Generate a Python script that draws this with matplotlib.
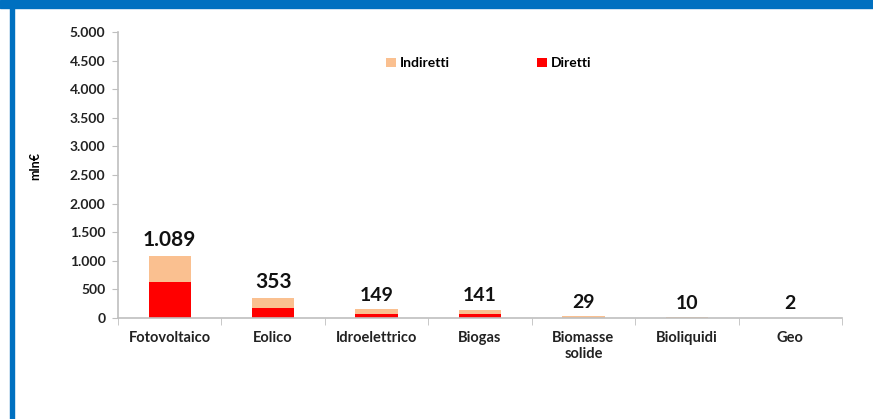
import matplotlib
matplotlib.use("Agg")
import matplotlib.pyplot as plt
import numpy as np
from matplotlib.patches import Rectangle
from matplotlib.ticker import FuncFormatter, FixedLocator

plt.rcParams['font.family'] = ['Lato', 'DejaVu Sans']

# data (mln€)
categories = ["Fotovoltaico", "Eolico", "Idroelettrico", "Biogas",
              "Biomasse\nsolide", "Bioliquidi", "Geo"]
diretti = [630, 180, 75, 70, 4, 2, 0.5]
indiretti = [459, 173, 74, 71, 25, 8, 1.5]
totals = [1089, 353, 149, 141, 29, 10, 2]
total_labels = ["1.089", "353", "149", "141", "29", "10", "2"]

C_DIR = "#FF0000"
C_IND = "#FAC090"
GREY = "#BFBFBF"

fig = plt.figure(figsize=(8.73, 4.19), dpi=100)
# blue frame (top band + left stripe)
fig.patches.append(Rectangle((0, 1 - 8 / 419), 1, 8 / 419, transform=fig.transFigure,
                             color="#0070C0", zorder=0))
fig.patches.append(Rectangle((9.5 / 873, 0), 4.5 / 873, 1, transform=fig.transFigure,
                             color="#0070C0", zorder=0))

ax = fig.add_axes([118 / 873, 1 - 318 / 419, 724 / 873, 286 / 419])
x = np.arange(len(categories))
w = 0.41
ax.bar(x, diretti, width=w, color=C_DIR, label="Diretti", zorder=2)
ax.bar(x, indiretti, width=w, bottom=diretti, color=C_IND, label="Indiretti", zorder=2)

for xi, t, lab in zip(x, totals, total_labels):
    fs = 15 if t > 300 else 14
    ax.annotate(lab, (xi, t), xytext=(0, 4), textcoords="offset points",
                ha="center", va="bottom", fontsize=fs, fontweight="bold", color="#111111")

ax.set_xlim(-0.5, len(categories) - 0.5)
ax.set_ylim(0, 5000)
ax.set_yticks(np.arange(0, 5001, 500))
ax.yaxis.set_major_formatter(FuncFormatter(lambda v, p: f"{int(v):,}".replace(",", ".")))
ax.set_xticks(x)
ax.set_xticklabels(categories, fontsize=10.5, fontweight="bold", color="#222222")
ax.xaxis.set_minor_locator(FixedLocator(np.arange(-0.5, len(categories), 1.0)))
ax.tick_params(axis="x", which="major", length=0, pad=9)
ax.tick_params(axis="x", which="minor", length=5, color=GREY, direction="out")
ax.tick_params(axis="y", length=4, color=GREY, labelsize=10, pad=5)
for lab in ax.get_yticklabels():
    lab.set_fontweight("bold")
    lab.set_color("#222222")

for s in ["top", "right"]:
    ax.spines[s].set_visible(False)
ax.spines["left"].set_color(GREY)
ax.spines["bottom"].set_color(GREY)
ax.spines["left"].set_linewidth(1.2)
ax.spines["bottom"].set_linewidth(1.2)

ax.set_ylabel("mln€", fontsize=9, fontweight="bold")
ax.yaxis.set_label_coords(-0.106, 0.53)

handles, labels = ax.get_legend_handles_labels()
leg = ax.legend(handles[::-1], labels[::-1], ncol=2, frameon=False,
                loc="upper center", bbox_to_anchor=(0.512, 0.955),
                handlelength=0.7, handleheight=0.7, handletextpad=0.3,
                columnspacing=6.3, fontsize=10)
for t in leg.get_texts():
    t.set_fontweight("bold")

fig.savefig("out.png", dpi=100)
